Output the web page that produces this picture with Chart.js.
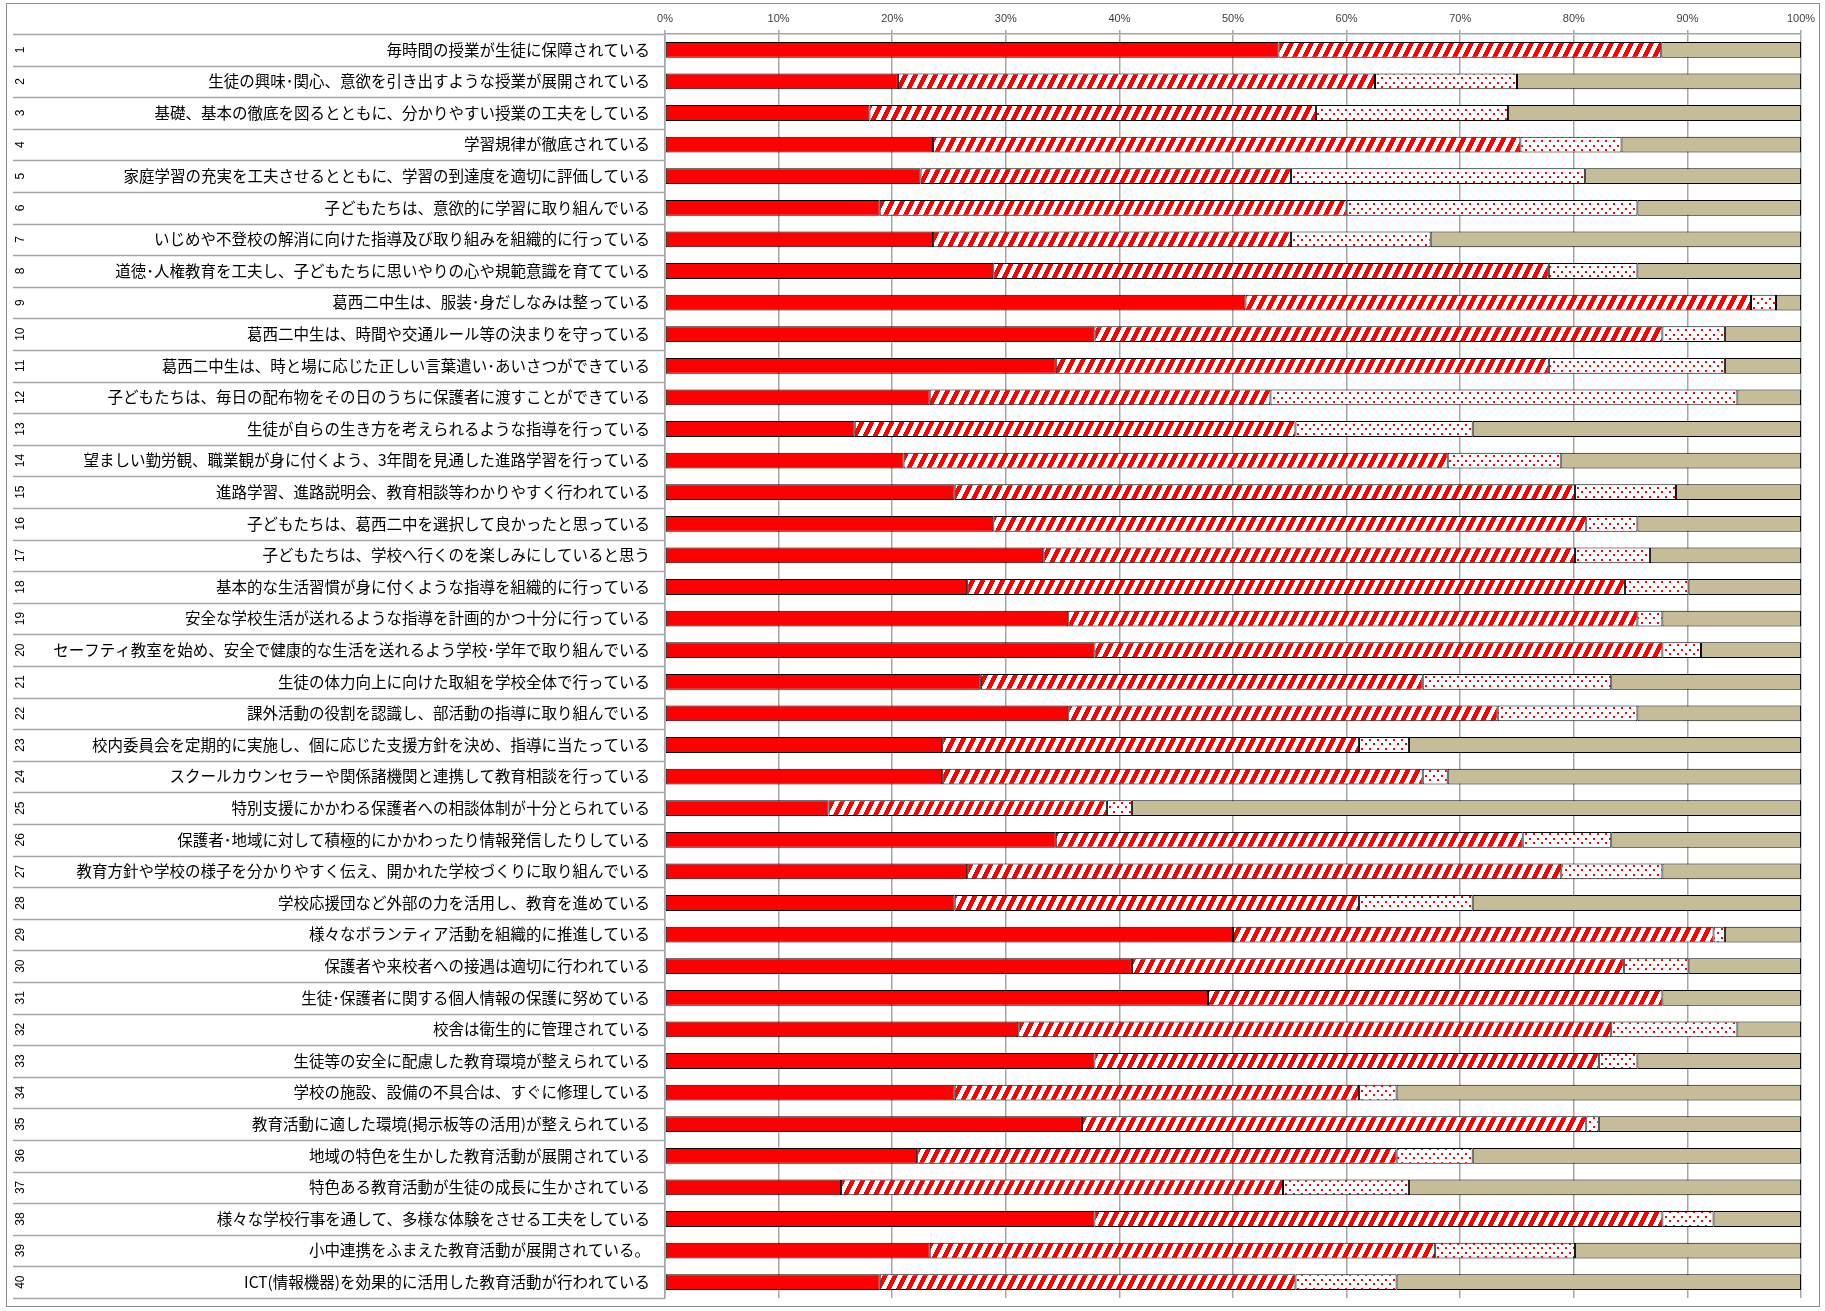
<!DOCTYPE html>
<html>
<head>
<meta charset="utf-8">
<script src="https://cdn.jsdelivr.net/npm/chart.js@4/dist/chart.umd.min.js"></script>
<style>
  body { margin: 0; background: #fff; }
  canvas { display: block; }
</style>
</head>
<body>
<canvas id="survey" width="1825" height="1311"></canvas>
<script>
// row numbers and question texts
var rowNo = [];
for (var n = 1; n <= 40; n++) rowNo.push(String(n));

var labels = [
  '毎時間の授業が生徒に保障されている',
  '生徒の興味･関心、意欲を引き出すような授業が展開されている',
  '基礎、基本の徹底を図るとともに、分かりやすい授業の工夫をしている',
  '学習規律が徹底されている',
  '家庭学習の充実を工夫させるとともに、学習の到達度を適切に評価している',
  '子どもたちは、意欲的に学習に取り組んでいる',
  'いじめや不登校の解消に向けた指導及び取り組みを組織的に行っている',
  '道徳･人権教育を工夫し、子どもたちに思いやりの心や規範意識を育てている',
  '葛西二中生は、服装･身だしなみは整っている',
  '葛西二中生は、時間や交通ルール等の決まりを守っている',
  '葛西二中生は、時と場に応じた正しい言葉遣い･あいさつができている',
  '子どもたちは、毎日の配布物をその日のうちに保護者に渡すことができている',
  '生徒が自らの生き方を考えられるような指導を行っている',
  '望ましい勤労観、職業観が身に付くよう、3年間を見通した進路学習を行っている',
  '進路学習、進路説明会、教育相談等わかりやすく行われている',
  '子どもたちは、葛西二中を選択して良かったと思っている',
  '子どもたちは、学校へ行くのを楽しみにしていると思う',
  '基本的な生活習慣が身に付くような指導を組織的に行っている',
  '安全な学校生活が送れるような指導を計画的かつ十分に行っている',
  'セーフティ教室を始め、安全で健康的な生活を送れるよう学校･学年で取り組んでいる',
  '生徒の体力向上に向けた取組を学校全体で行っている',
  '課外活動の役割を認識し、部活動の指導に取り組んでいる',
  '校内委員会を定期的に実施し、個に応じた支援方針を決め、指導に当たっている',
  'スクールカウンセラーや関係諸機関と連携して教育相談を行っている',
  '特別支援にかかわる保護者への相談体制が十分とられている',
  '保護者･地域に対して積極的にかかわったり情報発信したりしている',
  '教育方針や学校の様子を分かりやすく伝え、開かれた学校づくりに取り組んでいる',
  '学校応援団など外部の力を活用し、教育を進めている',
  '様々なボランティア活動を組織的に推進している',
  '保護者や来校者への接遇は適切に行われている',
  '生徒･保護者に関する個人情報の保護に努めている',
  '校舎は衛生的に管理されている',
  '生徒等の安全に配慮した教育環境が整えられている',
  '学校の施設、設備の不具合は、すぐに修理している',
  '教育活動に適した環境(掲示板等の活用)が整えられている',
  '地域の特色を生かした教育活動が展開されている',
  '特色ある教育活動が生徒の成長に生かされている',
  '様々な学校行事を通して、多様な体験をさせる工夫をしている',
  '小中連携をふまえた教育活動が展開されている。',
  'ICT(情報機器)を効果的に活用した教育活動が行われている'
];

// percentages per answer
var agree = [54.0, 20.5, 18.0, 23.6, 22.5, 18.9, 23.6, 28.9, 51.1, 37.8,
             34.4, 23.3, 16.7, 21.0, 25.5, 28.9, 33.3, 26.6, 35.5, 37.8,
             27.8, 35.5, 24.4, 24.4, 14.4, 34.4, 26.6, 25.5, 50.0, 41.1,
             47.8, 31.1, 37.8, 25.5, 36.7, 22.2, 15.5, 37.8, 23.3, 18.9];
var ratherAgree = [33.7, 42.0, 39.3, 51.7, 32.6, 41.1, 31.5, 48.9, 44.5, 50.0,
                   43.4, 30.0, 38.8, 47.9, 54.6, 52.2, 46.8, 57.9, 50.1, 50.0,
                   38.9, 37.8, 36.7, 42.3, 24.5, 41.1, 52.3, 35.6, 42.3, 43.3,
                   40.0, 52.2, 44.4, 35.6, 44.4, 42.2, 38.9, 50.0, 44.5, 36.6];
var ratherDisagree = [0, 12.5, 16.9, 8.9, 25.9, 25.6, 12.3, 7.8, 2.2, 5.5,
                      15.5, 41.1, 15.6, 10.0, 8.9, 4.5, 6.6, 5.6, 2.2, 3.4,
                      16.6, 12.3, 4.4, 2.2, 2.2, 7.8, 8.9, 10.0, 1.0, 5.7,
                      0, 11.1, 3.4, 3.3, 1.1, 6.7, 11.1, 4.5, 12.3, 8.9];
var unknown = [12.3, 25.0, 25.8, 15.8, 19.0, 14.4, 32.6, 14.4, 2.2, 6.7,
               6.7, 5.6, 28.9, 21.1, 11.0, 14.4, 13.3, 9.9, 12.2, 8.8,
               16.7, 14.4, 34.5, 31.1, 58.9, 16.7, 12.2, 28.9, 6.7, 9.9,
               12.2, 5.6, 14.4, 35.6, 17.8, 28.9, 34.5, 7.7, 19.9, 35.6];

var seriesNames = ['そう思う', 'ややそう思う', 'あまりそう思わない', 'わからない'];

// excel-like fill patterns
function stripePattern() {
  var w = 10, h = 20;
  var c = document.createElement('canvas');
  c.width = w; c.height = h;
  var g = c.getContext('2d');
  var img = g.createImageData(w, h);
  for (var y = 0; y < h; y++) {
    for (var x = 0; x < w; x++) {
      var u = (x + y * w / h) % w;
      var i = (y * w + x) * 4;
      if (u < w * 0.5) { img.data[i] = 255; img.data[i+1] = 0; img.data[i+2] = 0; }
      else { img.data[i] = 255; img.data[i+1] = 255; img.data[i+2] = 255; }
      img.data[i+3] = 255;
    }
  }
  g.putImageData(img, 0, 0);
  return g.createPattern(c, 'repeat');
}

function dotPattern() {
  var c = document.createElement('canvas');
  c.width = 8; c.height = 9;
  var g = c.getContext('2d');
  g.fillStyle = '#fff';
  g.fillRect(0, 0, 8, 9);
  g.fillStyle = '#ff0000';
  g.fillRect(1, 1, 2, 2);
  g.fillRect(5, 5, 2, 2);
  return g.createPattern(c, 'repeat');
}

var rowDecor = {
  id: 'rowDecor',
  beforeDraw: function(chart) {
    var ctx = chart.ctx;
    ctx.save();
    ctx.fillStyle = '#fff';
    ctx.fillRect(0, 0, chart.width, chart.height);
    ctx.restore();
  },
  afterDraw: function(chart) {
    var ctx = chart.ctx;
    var ys = chart.scales.y;
    var area = chart.chartArea;
    ctx.save();
    // row separators in the label column
    ctx.strokeStyle = '#a6a6a6';
    ctx.lineWidth = 1.5;
    for (var i = 0; i <= labels.length; i++) {
      var py = Math.round(ys.getPixelForValue(i - 0.5)) + 0.5;
      ctx.beginPath();
      ctx.moveTo(13, py);
      ctx.lineTo(area.left, py);
      ctx.stroke();
    }
    // outer level numbers, rotated
    ctx.fillStyle = '#000';
    ctx.font = '12px "Liberation Sans", Arial, sans-serif';
    ctx.textAlign = 'center';
    ctx.textBaseline = 'middle';
    for (var k = 0; k < rowNo.length; k++) {
      ctx.save();
      ctx.translate(21, ys.getPixelForValue(k));
      ctx.rotate(-Math.PI / 2);
      ctx.fillText(rowNo[k], 0, 0);
      ctx.restore();
    }
    // chart frame
    ctx.strokeStyle = '#8c8c8c';
    ctx.lineWidth = 1;
    ctx.strokeRect(6.5, 3.5, 1813, 1303);
    ctx.restore();
  }
};

var fills = ['#ff0000', stripePattern(), dotPattern(), '#c4bd97'];
var values = [agree, ratherAgree, ratherDisagree, unknown];
var datasets = [];
for (var d = 0; d < 4; d++) {
  datasets.push({
    label: seriesNames[d],
    data: values[d],
    backgroundColor: fills[d],
    borderColor: '#000',
    borderWidth: 1,
    borderSkipped: false,
    categoryPercentage: 1.0,
    barPercentage: 0.5
  });
}

var chart = new Chart(document.getElementById('survey'), {
  type: 'bar',
  data: { labels: labels, datasets: datasets },
  plugins: [rowDecor],
  options: {
    indexAxis: 'y',
    responsive: false,
    animation: false,
    layout: { padding: { left: 0, top: 0, right: 24, bottom: 13 } },
    plugins: {
      legend: { display: false },
      tooltip: { enabled: false }
    },
    scales: {
      x: {
        position: 'top',
        stacked: true,
        min: 0,
        max: 100,
        afterFit: function(s) { s.height = 34; },
        ticks: {
          stepSize: 10,
          padding: 4,
          color: '#404040',
          font: { family: 'Liberation Sans', size: 11 },
          callback: function(v) { return v + '%'; }
        },
        grid: { color: '#a6a6a6', lineWidth: 1.5, tickLength: 4 },
        border: { color: '#a6a6a6', width: 1.5 }
      },
      y: {
        stacked: true,
        afterFit: function(s) { s.width = 665; s.paddingTop = 0; s.paddingBottom = 0; },
        ticks: {
          autoSkip: false,
          padding: 15,
          color: '#000',
          font: { family: '"Noto Sans CJK JP"', size: 15.5 }
        },
        grid: { display: true, drawOnChartArea: false, drawTicks: false },
        border: { color: '#a6a6a6', width: 1.5 }
      }
    }
  }
});
</script>
</body>
</html>
